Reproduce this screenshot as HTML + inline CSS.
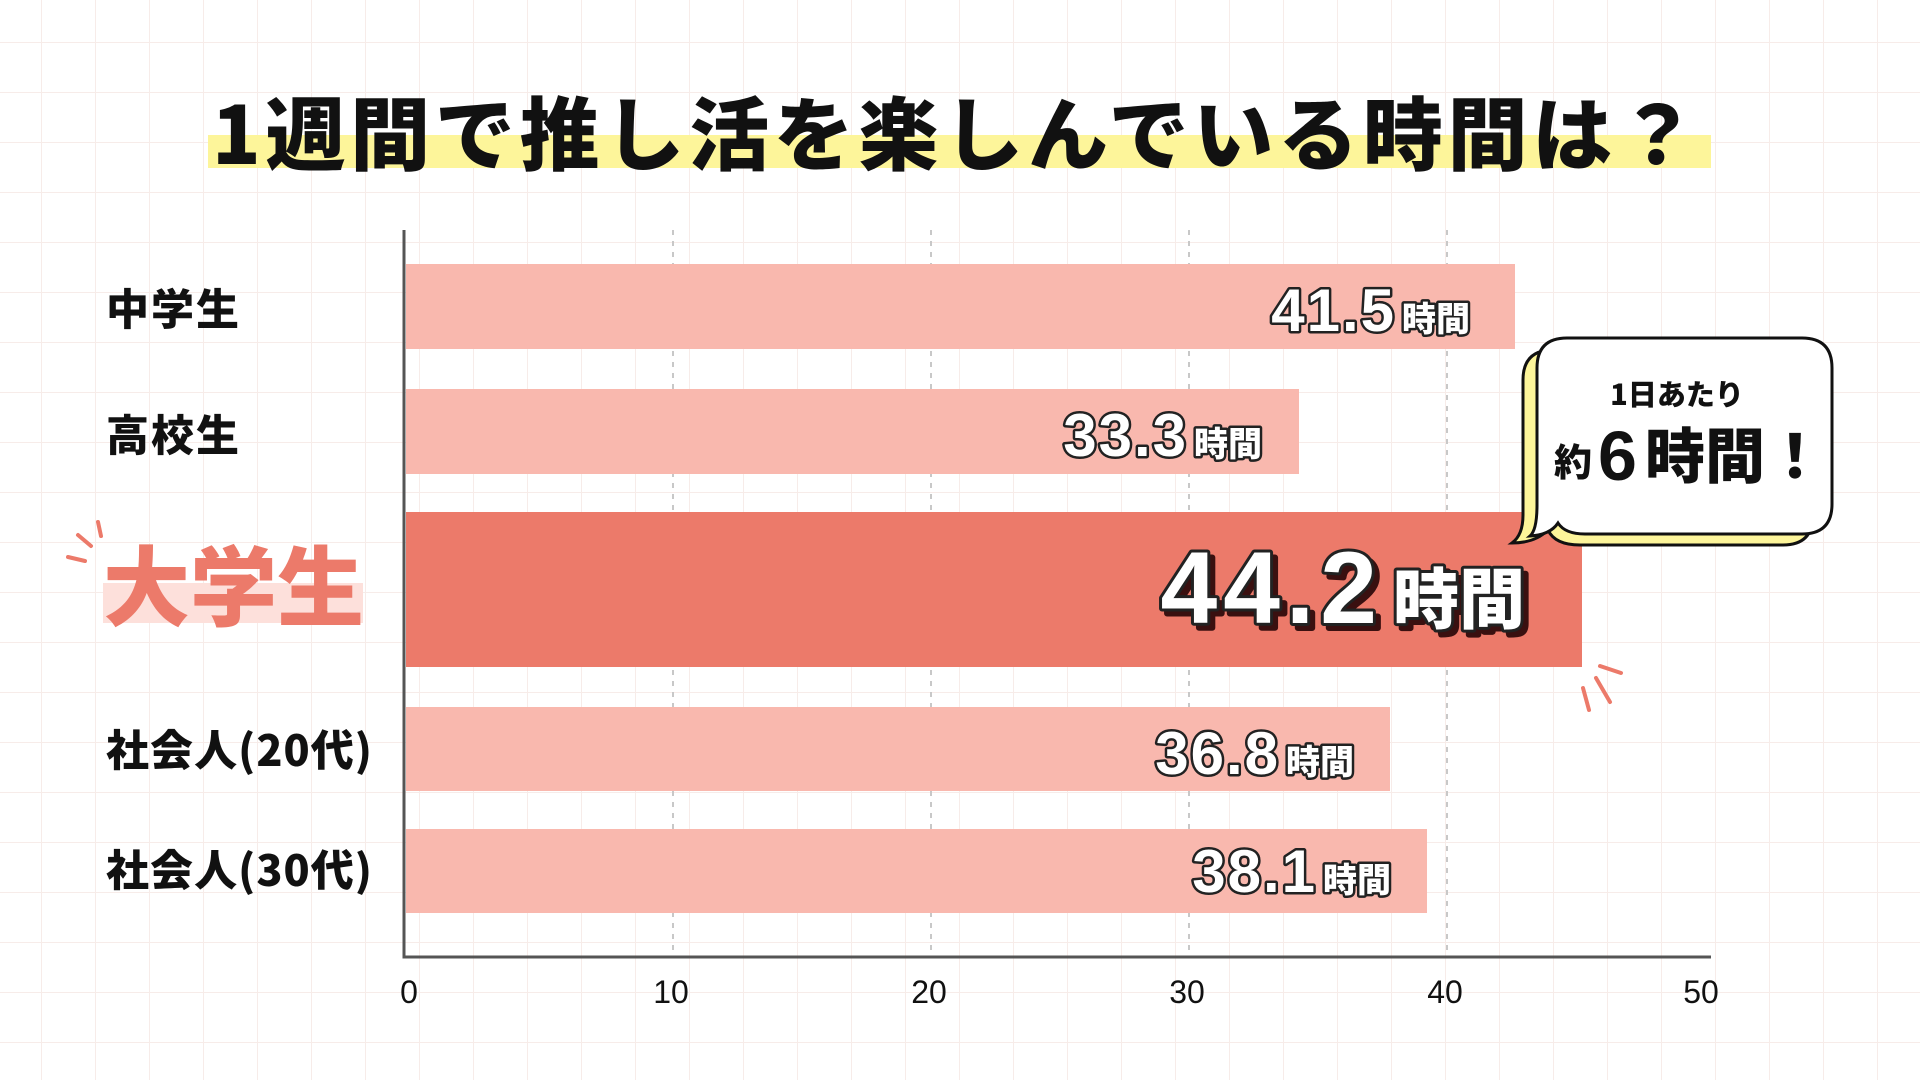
<!DOCTYPE html>
<html><head><meta charset="utf-8"><style>
html,body{margin:0;padding:0;width:1920px;height:1080px;overflow:hidden;background:#fff}
svg{display:block}
text{font-family:"Liberation Sans","Noto Sans CJK JP",sans-serif}
.jp{font-family:"Noto Sans CJK JP",sans-serif}
</style></head><body>
<svg width="1920" height="1080" viewBox="0 0 1920 1080" xmlns="http://www.w3.org/2000/svg">
<defs>
<pattern id="g" x="41" y="42" width="54" height="50" patternUnits="userSpaceOnUse">
<path d="M0 0V50M0 0H54" stroke="#f7ece9" stroke-width="2" fill="none"/>
</pattern>
</defs>
<rect width="1920" height="1080" fill="#fff"/>
<rect width="1920" height="1080" fill="url(#g)"/>

<!-- title -->
<rect x="208" y="135" width="1503" height="33" fill="#fdf59a"/>
<text x="212" y="164" class="jp" font-size="80" font-weight="900" letter-spacing="5" textLength="1490" lengthAdjust="spacing" fill="#111">1週間で推し活を楽しんでいる時間は？</text>

<!-- gridlines -->
<g stroke="#c8c8c8" stroke-width="2" stroke-dasharray="5,6">
<path d="M673 230V956M931 230V956M1189 230V956M1447 230V956"/>
</g>

<!-- bars -->
<rect x="406" y="264" width="1109" height="85" fill="#f9b8ae"/>
<rect x="406" y="389" width="893" height="85" fill="#f9b8ae"/>
<rect x="406" y="512" width="1176" height="155" fill="#ec7a6a"/>
<rect x="406" y="707" width="984" height="84" fill="#f9b8ae"/>
<rect x="406" y="829" width="1021" height="84" fill="#f9b8ae"/>

<!-- axes -->
<path d="M404 230V957H1711" stroke="#555" stroke-width="3" fill="none"/>

<!-- tick labels -->
<g font-size="32" fill="#111" text-anchor="middle">
<text x="409" y="1003">0</text>
<text x="671" y="1003">10</text>
<text x="929" y="1003">20</text>
<text x="1187" y="1003">30</text>
<text x="1445" y="1003">40</text>
<text x="1701" y="1003">50</text>
</g>

<!-- category labels -->
<g class="jp" font-size="43" font-weight="900" fill="#111" letter-spacing="2">
<text x="106" y="325" class="jp">中学生</text>
<text x="106" y="451" class="jp">高校生</text>
<text x="106" y="766" class="jp" textLength="268" lengthAdjust="spacing">社会人(20代)</text>
<text x="106" y="886" class="jp" textLength="268" lengthAdjust="spacing">社会人(30代)</text>
</g>
<rect x="103" y="583" width="260" height="40" fill="#fde0db"/>
<text x="103" y="619" class="jp" font-size="87" font-weight="900" fill="#ec7a6a">大学生</text>
<g stroke="#ec7a6a" stroke-width="4" stroke-linecap="round">
<path d="M98 522L101 536M78 535L91 546M68 557L85 561"/>
<path d="M1600 666L1621 673M1596 678L1610 702M1583 688L1589 710"/>
</g>

<!-- value labels -->
<g class="jp" font-weight="900" fill="#fff" stroke="#222" stroke-width="5" paint-order="stroke" stroke-linejoin="round">
<text x="1470" y="331" text-anchor="end"><tspan font-size="60" font-family="Liberation Sans" letter-spacing="2">41.5</tspan><tspan font-size="34" dx="6">時間</tspan></text>
<text x="1262" y="456" text-anchor="end"><tspan font-size="60" font-family="Liberation Sans" letter-spacing="2">33.3</tspan><tspan font-size="34" dx="6">時間</tspan></text>
<text x="1354" y="774" text-anchor="end"><tspan font-size="60" font-family="Liberation Sans" letter-spacing="2">36.8</tspan><tspan font-size="34" dx="6">時間</tspan></text>
<text x="1391" y="892" text-anchor="end"><tspan font-size="60" font-family="Liberation Sans" letter-spacing="2">38.1</tspan><tspan font-size="34" dx="6">時間</tspan></text>
</g>
<g class="jp" font-weight="900" stroke-linejoin="round">
<text x="1530" y="628" text-anchor="end" fill="#3a1010" stroke="#3a1010" stroke-width="6"><tspan font-size="102" font-family="Liberation Sans" letter-spacing="6">44.2</tspan><tspan font-size="66" dx="10">時間</tspan></text>
<text x="1525" y="623" text-anchor="end" fill="#fff" stroke="#222" stroke-width="6" paint-order="stroke"><tspan font-size="102" font-family="Liberation Sans" letter-spacing="6">44.2</tspan><tspan font-size="66" dx="10">時間</tspan></text>
</g>

<!-- bubble -->
<path d="M1553 350Q1523 350 1523 380V515Q1523 535 1512 543Q1535 543 1548 530Q1555 545 1580 545H1783Q1813 545 1813 515V380Q1813 350 1783 350Z" fill="#fdf59a" stroke="#111" stroke-width="3"/>
<path d="M1567 338Q1537 338 1537 368V505Q1537 530 1530 536Q1550 535 1558 523Q1565 534 1585 534H1802Q1832 534 1832 504V368Q1832 338 1802 338Z" fill="#fff" stroke="#111" stroke-width="3"/>
<text x="1677" y="405" text-anchor="middle" class="jp" font-size="29" font-weight="900" fill="#111">1日あたり</text>
<text x="1554" y="476" class="jp" font-size="38" font-weight="900" fill="#111">約</text>
<text x="1598" y="480" font-size="70" font-weight="bold" fill="#111">6</text>
<text x="1645" y="478" class="jp" font-size="60" font-weight="900" fill="#111">時間！</text>
</svg>
</body></html>
